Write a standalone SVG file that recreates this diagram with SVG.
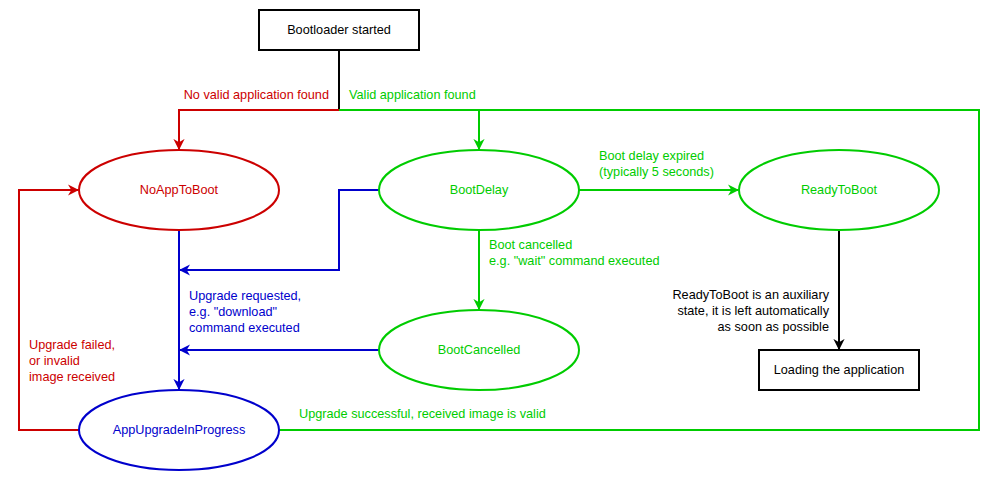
<svg xmlns="http://www.w3.org/2000/svg" width="1000" height="481" viewBox="0 0 1000 481">
<defs>
<style>
text{font-family:"Liberation Sans",Arial,sans-serif;font-size:12.7px}
.r{fill:#CC0000}.g{fill:#00CC00}.b{fill:#0000CC}.k{fill:#000}
.e{fill:#fff;stroke-width:2}
.c{fill:none;stroke-width:2}
</style>
<marker id="ar" viewBox="0 0 10 10" refX="9" refY="5" markerWidth="5.6" markerHeight="5.6" orient="auto" markerUnits="strokeWidth"><path d="M0,0 L10,5 L0,10 L3,5 Z" fill="#CC0000"/></marker>
<marker id="ag" viewBox="0 0 10 10" refX="9" refY="5" markerWidth="5.6" markerHeight="5.6" orient="auto" markerUnits="strokeWidth"><path d="M0,0 L10,5 L0,10 L3,5 Z" fill="#00CC00"/></marker>
<marker id="ab" viewBox="0 0 10 10" refX="9" refY="5" markerWidth="5.6" markerHeight="5.6" orient="auto" markerUnits="strokeWidth"><path d="M0,0 L10,5 L0,10 L3,5 Z" fill="#0000CC"/></marker>
<marker id="ak" viewBox="0 0 10 10" refX="9" refY="5" markerWidth="5.6" markerHeight="5.6" orient="auto" markerUnits="strokeWidth"><path d="M0,0 L10,5 L0,10 L3,5 Z" fill="#000"/></marker>
</defs>
<rect width="1000" height="481" fill="#fff"/>
<g id="connectors">
<path class="c" stroke="#000" d="M339,50 V110"/>
<path class="c" stroke="#CC0000" d="M339,110 H179 V149" marker-end="url(#ar)"/>
<path class="c" stroke="#00CC00" d="M339,110 H979 V430 H279"/>
<path class="c" stroke="#00CC00" d="M479,110 V149" marker-end="url(#ag)"/>
<path class="c" stroke="#00CC00" d="M579,190 H738" marker-end="url(#ag)"/>
<path class="c" stroke="#00CC00" d="M479,230 V309" marker-end="url(#ag)"/>
<path class="c" stroke="#000" d="M839,230 V349" marker-end="url(#ak)"/>
<path class="c" stroke="#0000CC" d="M179,230 V389" marker-end="url(#ab)"/>
<path class="c" stroke="#0000CC" d="M379,190 H339 V270 H180" marker-end="url(#ab)"/>
<path class="c" stroke="#0000CC" d="M379,350 H180" marker-end="url(#ab)"/>
<path class="c" stroke="#CC0000" d="M79,430 H19 V190 H78" marker-end="url(#ar)"/>
<text class="r" x="329" y="99" text-anchor="end">No valid application found</text>
<text class="g" x="349" y="99">Valid application found</text>
<text class="g" x="599" y="160">Boot delay expired</text>
<text class="g" x="599" y="176">(typically 5 seconds)</text>
<text class="g" x="489" y="249">Boot cancelled</text>
<text class="g" x="489" y="265">e.g. "wait" command executed</text>
<text class="b" x="189" y="300">Upgrade requested,</text>
<text class="b" x="189" y="316">e.g. "download"</text>
<text class="b" x="189" y="332">command executed</text>
<text class="r" x="29" y="349">Upgrade failed,</text>
<text class="r" x="29" y="365">or invalid</text>
<text class="r" x="29" y="381">image received</text>
<text class="g" x="299" y="418">Upgrade successful, received image is valid</text>
<text class="k" x="829" y="299" text-anchor="end">ReadyToBoot is an auxiliary</text>
<text class="k" x="829" y="315" text-anchor="end">state, it is left automatically</text>
<text class="k" x="829" y="331" text-anchor="end">as soon as possible</text>
</g>
<g id="bootloader-started">
<rect x="259" y="10" width="160" height="40" fill="#fff" stroke="#000" stroke-width="2"/>
<text class="k" x="339" y="34" text-anchor="middle">Bootloader started</text>
</g>
<g id="no-app-to-boot">
<ellipse class="e" cx="179" cy="190" rx="100" ry="40" stroke="#CC0000"/>
<text class="r" x="179" y="194" text-anchor="middle">NoAppToBoot</text>
</g>
<g id="boot-delay">
<ellipse class="e" cx="479" cy="190" rx="100" ry="40" stroke="#00CC00"/>
<text class="g" x="479" y="194" text-anchor="middle">BootDelay</text>
</g>
<g id="ready-to-boot">
<ellipse class="e" cx="839" cy="190" rx="100" ry="40" stroke="#00CC00"/>
<text class="g" x="839" y="194" text-anchor="middle">ReadyToBoot</text>
</g>
<g id="boot-cancelled">
<ellipse class="e" cx="479" cy="350" rx="100" ry="40" stroke="#00CC00"/>
<text class="g" x="479" y="354" text-anchor="middle">BootCancelled</text>
</g>
<g id="app-upgrade-in-progress">
<ellipse class="e" cx="179" cy="430" rx="100" ry="40" stroke="#0000CC"/>
<text class="b" x="179" y="434" text-anchor="middle">AppUpgradeInProgress</text>
</g>
<g id="loading-the-application">
<rect x="759" y="350" width="160" height="40" fill="#fff" stroke="#000" stroke-width="2"/>
<text class="k" x="839" y="374" text-anchor="middle">Loading the application</text>
</g>
</svg>
